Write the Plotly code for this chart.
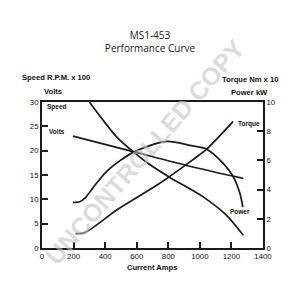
import plotly.graph_objects as go

# ---- data ----
speed_amps = [300, 386, 471, 577, 680, 810, 1021, 1169, 1275]
speed_rpm100 = [30.0, 26.3, 22.9, 19.8, 17.2, 14.5, 10.5, 6.7, 2.6]

volts_amps = [196, 577, 936, 1275]
volts = [23.0, 19.8, 16.8, 14.3]

torque_amps = [213, 270, 480, 746, 950, 1043, 1211]
torque_nm10 = [0.99, 1.05, 2.65, 4.43, 6.0, 6.77, 8.67]

power_amps = [196, 239, 270, 345, 418, 577, 789, 936, 1043, 1148, 1211, 1254, 1272]
power_kw = [3.12, 3.17, 3.4, 4.43, 5.33, 6.55, 7.3, 7.03, 6.77, 5.8, 4.9, 3.73, 2.8]

x_ticks = [0, 200, 400, 600, 800, 1000, 1200, 1400]
y_ticks = [0, 5, 10, 15, 20, 25, 30]
y2_ticks = [0, 2, 4, 6, 8, 10]

FONT = "Liberation Sans Narrow, Arial Narrow, Liberation Sans, Arial, sans-serif"
LC = "#1a1a1a"

fig = go.Figure()
line = dict(color=LC, width=1.7, shape="spline", smoothing=0.8)
fig.add_trace(go.Scatter(x=speed_amps, y=speed_rpm100, mode="lines", line=line, yaxis="y"))
fig.add_trace(go.Scatter(x=volts_amps, y=volts, mode="lines", line=line, yaxis="y"))
fig.add_trace(go.Scatter(x=torque_amps, y=torque_nm10, mode="lines", line=line, yaxis="y2"))
fig.add_trace(go.Scatter(x=power_amps, y=power_kw, mode="lines", line=line, yaxis="y2"))

L, R, T, B = 42.4, 263.0, 102.3, 247.7
W, H = R - L, B - T


def px(xp, yp):
    return (xp - L) / W, (B - yp) / H


def ann(text, xp, yp, size=9, bold=True, xanchor="center", angle=0, color="#111", fam=FONT):
    x, y = px(xp, yp)
    fig.add_annotation(
        x=x, y=y, xref="paper", yref="paper", text=(f"<b>{text}</b>" if bold else text),
        showarrow=False, xanchor=xanchor, yanchor="middle", textangle=angle,
        font=dict(family=fam, size=size, color=color),
    )


# watermark
ann("UNCONTROLLED COPY", 145, 152, size=25, angle=-49, color="rgba(195,195,195,0.6)",
    fam="Liberation Sans, Arial, sans-serif")

# axis titles
ann("Speed R.P.M. x 100", 56, 78, size=7.6)
ann("Volts", 53, 92, size=7.6)
ann("Torque Nm x 10", 250, 80, size=7.6)
ann("Power kW", 250, 93, size=7.6)
ann("Current Amps", 152, 267, size=7.6)
# curve labels
ann("Speed", 57, 107, size=6.5)
ann("Volts", 57, 132, size=6.5)
ann("Torque", 236, 124, size=6.5, xanchor="left")
ann("Power", 240, 211, size=6.5)

tf = dict(family=FONT, size=7.8, color="#111")
fig.update_layout(
    width=300, height=300,
    margin=dict(l=L, r=300 - R, t=T, b=300 - B),
    paper_bgcolor="white", plot_bgcolor="white",
    showlegend=False,
    title=dict(text="MS1-453<br>Performance Curve", x=0.5, xanchor="center", y=1 - 39 / 300,
               yanchor="middle", font=dict(family="Open Sans, Liberation Sans, sans-serif", size=10, color="#222")),
    xaxis=dict(range=[0, 1400], tickvals=x_ticks, ticks="inside", ticklen=6, tickwidth=1.5,
               tickcolor=LC, showline=True, linecolor=LC, linewidth=1.8, mirror=True,
               showgrid=False, zeroline=False, tickfont=tf,
               tickprefix="<b>", ticksuffix="</b>"),
    yaxis=dict(range=[0, 30], tickvals=y_ticks, ticks="inside", ticklen=6, tickwidth=1.5,
               tickcolor=LC, showline=True, linecolor=LC, linewidth=1.8,
               showgrid=False, zeroline=False, tickfont=tf,
               tickprefix="<b>", ticksuffix="</b>"),
    yaxis2=dict(range=[0, 10], tickvals=y2_ticks, overlaying="y", side="right", ticks="inside",
                ticklen=6, tickwidth=1.5, tickcolor=LC, showline=True, linecolor=LC, linewidth=1.8,
                showgrid=False, zeroline=False, tickfont=tf,
                tickprefix="<b>", ticksuffix="</b>"),
)

fig.write_html("out.html")
